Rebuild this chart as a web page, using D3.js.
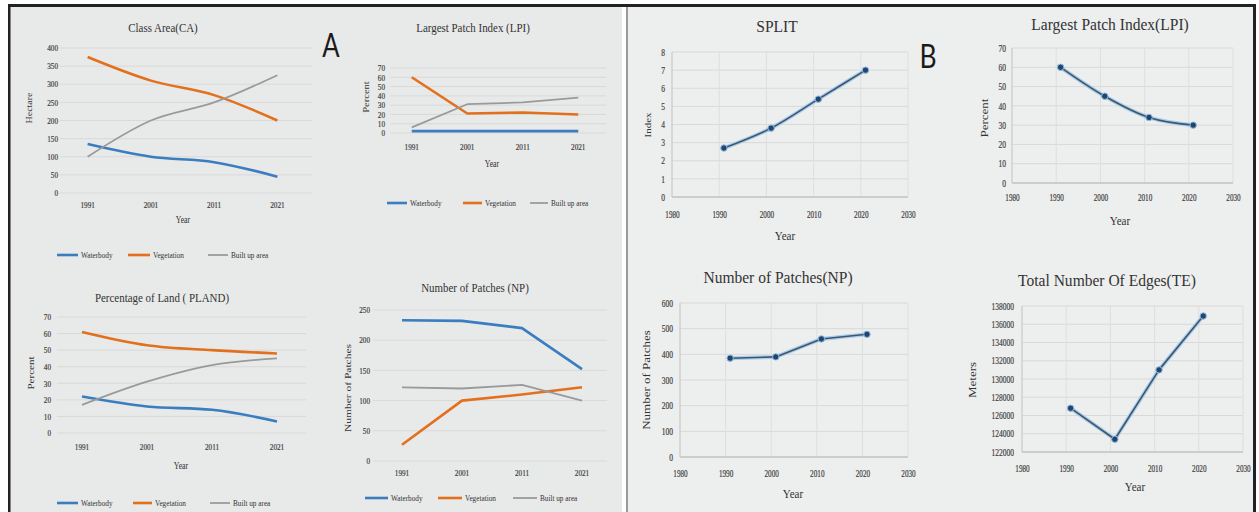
<!DOCTYPE html>
<html>
<head>
<meta charset="utf-8">
<script src="https://cdn.jsdelivr.net/npm/d3@7"></script>
<style>
  body { margin: 0; background: #fff; }
  svg { display: block; }
  text { font-family: "Liberation Serif", "Times New Roman", serif; fill: #333; }
  .tick text { stroke: #555; stroke-width: 0.2; }
  .big { font-family: Lato, "Open Sans", sans-serif; fill: #1a1a1a; }
</style>
</head>
<body>
<svg id="chart" width="1259" height="512"></svg>
<script>
// panel A: land cover classes
const years = ['1991', '2001', '2011', '2021'];
const seriesNames = ['Waterbody', 'Vegetation', 'Built up area'];

const caWater = [135, 100, 85, 45];
const caVeg = [375, 310, 270, 200];
const caBuilt = [100, 200, 250, 325];

const lpiWater = [2, 2, 2, 2];
const lpiVeg = [60, 21, 22, 20];
const lpiBuilt = [6, 31, 33, 38];

const plandWater = [22, 16, 14, 7];
const plandVeg = [61, 53, 50, 48];
const plandBuilt = [17, 31, 41, 45];

const npWater = [233, 232, 220, 152];
const npVeg = [27, 100, 110, 122];
const npBuilt = [122, 120, 126, 100];

const caTicks = [0, 50, 100, 150, 200, 250, 300, 350, 400];
const pctTicks = [0, 10, 20, 30, 40, 50, 60, 70];
const npTicks = [0, 50, 100, 150, 200, 250];

// panel B: landscape totals
const bYears = [1991, 2001, 2011, 2021];
const splitVals = [2.7, 3.8, 5.4, 7.0];
const lpiTotal = [60, 45, 34, 30];
const npTotal = [385, 390, 460, 478];
const teTotal = [126800, 123400, 131000, 136900];

const yearTicks = [1980, 1990, 2000, 2010, 2020, 2030];
const splitTicks = [0, 1, 2, 3, 4, 5, 6, 7, 8];
const npTotalTicks = [0, 100, 200, 300, 400, 500, 600];
const teTicks = [122000, 124000, 126000, 128000, 130000, 132000, 134000, 136000, 138000];

const colors = ['#3a7dc0', '#e2701c', '#9a9a9a'];
const widths = [2.6, 2.6, 1.8];

const svg = d3.select('#chart');

// frame
svg.append('rect').attr('x', 10).attr('y', 7).attr('width', 612).attr('height', 505).attr('fill', '#e8e9e9');
svg.append('rect').attr('x', 628).attr('y', 7).attr('width', 625).attr('height', 505).attr('fill', '#edeeee');
svg.append('rect').attr('x', 8).attr('y', 4).attr('width', 1248).attr('height', 3).attr('fill', '#222');
svg.append('rect').attr('x', 8).attr('y', 4).attr('width', 2.5).attr('height', 508).attr('fill', '#222');
svg.append('rect').attr('x', 626).attr('y', 7).attr('width', 2).attr('height', 505).attr('fill', '#9a9a9a');
svg.append('rect').attr('x', 1253).attr('y', 4).attr('width', 3).attr('height', 508).attr('fill', '#222');

function squeeze(sel, k) {
  sel.each(function () {
    const w = this.getComputedTextLength();
    if (w > 0) d3.select(this).attr('textLength', w * k).attr('lengthAdjust', 'spacingAndGlyphs');
  });
}

function vlabel(g, text, x, y, size, k) {
  g.append('text')
    .attr('transform', `translate(${x},${y}) rotate(-90) scale(1,${k})`)
    .attr('text-anchor', 'middle').attr('dy', '0.35em')
    .attr('font-size', size).text(text);
}

function drawA(c) {
  const g = svg.append('g');
  const x = d3.scaleBand().domain(years).range(c.xr);
  const y = d3.scaleLinear().domain(c.yd).range(c.yr);
  const cx = d => x(d) + x.bandwidth() / 2;

  g.selectAll('line.grid').data(c.ticks).join('line')
    .attr('class', 'grid')
    .attr('x1', c.gx[0]).attr('x2', c.gx[1])
    .attr('y1', d => y(d)).attr('y2', d => y(d))
    .attr('stroke', '#d9d9d9');

  const ya = g.append('g').attr('transform', `translate(${c.yAxisX},0)`)
    .call(d3.axisLeft(y).tickValues(c.ticks).tickSize(0).tickPadding(0));
  ya.select('.domain').remove();
  ya.selectAll('text').attr('font-size', 8.5);
  squeeze(ya.selectAll('text'), 0.85);

  const xa = g.append('g').attr('transform', `translate(0,${c.catY})`)
    .call(d3.axisBottom(x).tickSize(0).tickPadding(0));
  xa.select('.domain').remove();
  xa.selectAll('text').attr('y', 0).attr('dy', '0.32em').attr('font-size', 8.5);
  squeeze(xa.selectAll('text'), 0.85);

  const line = d3.line().x((d, i) => cx(years[i])).y(d => y(d)).curve(c.curve);
  c.values.forEach((vals, s) => {
    g.append('path').datum(vals)
      .attr('d', line).attr('fill', 'none')
      .attr('stroke', colors[s]).attr('stroke-width', widths[s])
      .attr('stroke-linejoin', 'round');
  });

  const t = g.append('text').attr('x', c.titleX).attr('y', c.titleY).attr('dy', '0.35em')
    .attr('text-anchor', 'middle').attr('font-size', 11.5).text(c.title);
  squeeze(t, 0.95);

  if (c.yearPos) {
    const yr = g.append('text').attr('x', c.yearPos[0]).attr('y', c.yearPos[1]).attr('dy', '0.35em')
      .attr('text-anchor', 'middle').attr('font-size', 10).text('Year');
    squeeze(yr, 0.78);
  }
  vlabel(g, c.ylab, c.ylabPos[0], c.ylabPos[1], c.ylabSize, 0.75);

  seriesNames.forEach((name, s) => {
    const p = c.legend[s];
    g.append('line').attr('x1', p[0]).attr('x2', p[1]).attr('y1', c.legendY).attr('y2', c.legendY)
      .attr('stroke', colors[s]).attr('stroke-width', widths[s]);
    const lt = g.append('text').attr('x', p[2]).attr('y', c.legendY).attr('dy', '0.33em')
      .attr('font-size', 8.5).text(name);
    squeeze(lt, 0.85);
  });
}

function drawB(c) {
  const g = svg.append('g');
  const x = d3.scaleLinear().domain([1980, 2030]).range(c.xr);
  const y = d3.scaleLinear().domain(c.yd).range(c.yr);

  g.selectAll('line.hg').data(c.ticks).join('line')
    .attr('x1', c.xr[0]).attr('x2', c.xr[1])
    .attr('y1', d => y(d)).attr('y2', d => y(d))
    .attr('stroke', '#d8d9d9');
  g.selectAll('line.vg').data(yearTicks).join('line')
    .attr('x1', d => x(d)).attr('x2', d => x(d))
    .attr('y1', c.yr[0]).attr('y2', c.yr[1])
    .attr('stroke', '#dedede');
  g.append('line').attr('x1', c.xr[0]).attr('x2', c.xr[1])
    .attr('y1', c.yr[0]).attr('y2', c.yr[0]).attr('stroke', '#b5b5b5');
  g.append('line').attr('x1', c.xr[0]).attr('x2', c.xr[0])
    .attr('y1', c.yr[0]).attr('y2', c.yr[1]).attr('stroke', '#c8c8c8');

  const ya = g.append('g').attr('transform', `translate(${c.yAxisX},0)`)
    .call(d3.axisLeft(y).tickValues(c.ticks).tickSize(0).tickPadding(0).tickFormat(d3.format('d')));
  ya.select('.domain').remove();
  ya.selectAll('text').attr('font-size', 10);
  squeeze(ya.selectAll('text'), 0.75);

  const xa = g.append('g').attr('transform', `translate(0,${c.xLabY})`)
    .call(d3.axisBottom(x).tickValues(yearTicks).tickSize(0).tickPadding(0).tickFormat(d3.format('d')));
  xa.select('.domain').remove();
  xa.selectAll('text').attr('y', 0).attr('dy', '0.32em').attr('font-size', 10);
  squeeze(xa.selectAll('text'), 0.72);

  const line = d3.line().x((d, i) => x(bYears[i])).y(d => y(d)).curve(c.curve);
  g.append('path').datum(c.values).attr('d', line).attr('fill', 'none')
    .attr('stroke', '#a9cdec').attr('stroke-width', 4).attr('stroke-linejoin', 'round');
  g.append('path').datum(c.values).attr('d', line).attr('fill', 'none')
    .attr('stroke', '#3f566d').attr('stroke-width', 1.6).attr('stroke-linejoin', 'round');
  g.selectAll('circle').data(c.values).join('circle')
    .attr('cx', (d, i) => x(bYears[i])).attr('cy', d => y(d)).attr('r', 3.2)
    .attr('fill', '#21466d').attr('stroke', '#8fbde6').attr('stroke-width', 1);

  const t = g.append('text').attr('x', c.titleX).attr('y', c.titleY).attr('dy', '0.35em')
    .attr('text-anchor', 'middle').attr('font-size', 16).text(c.title);
  squeeze(t, 0.97);

  const yr = g.append('text').attr('x', c.yearPos[0]).attr('y', c.yearPos[1]).attr('dy', '0.35em')
    .attr('text-anchor', 'middle').attr('font-size', 13).text('Year');
  squeeze(yr, 0.85);
  vlabel(g, c.ylab, c.ylabPos[0], c.ylabPos[1], c.ylabSize, 0.75);
}

drawA({
  title: 'Class Area(CA)', titleX: 163, titleY: 28,
  values: [caWater, caVeg, caBuilt],
  xr: [56, 309], yd: [0, 400], yr: [193, 48], ticks: caTicks,
  gx: [60, 312], yAxisX: 58, catY: 205,
  yearPos: [183, 219], ylab: 'Hectare', ylabPos: [29, 108], ylabSize: 10,
  legendY: 255, legend: [[57, 78, 81], [128, 150, 153], [208, 228, 231]],
  curve: d3.curveMonotoneX
});

drawA({
  title: 'Largest Patch Index (LPI)', titleX: 473, titleY: 28,
  values: [lpiWater, lpiVeg, lpiBuilt],
  xr: [384, 606], yd: [0, 70], yr: [133, 68], ticks: pctTicks,
  gx: [390, 606], yAxisX: 385, catY: 147,
  yearPos: [492, 163], ylab: 'Percent', ylabPos: [366, 97], ylabSize: 10.5,
  legendY: 203, legend: [[387, 407, 410], [463, 482, 485], [530, 548, 551]],
  curve: d3.curveLinear
});

drawA({
  title: 'Percentage of Land ( PLAND)', titleX: 162, titleY: 298,
  values: [plandWater, plandVeg, plandBuilt],
  xr: [49.5, 309.5], yd: [0, 70], yr: [433, 317], ticks: pctTicks,
  gx: [57, 306], yAxisX: 51, catY: 447,
  yearPos: [181, 465], ylab: 'Percent', ylabPos: [31, 373], ylabSize: 11,
  legendY: 503, legend: [[57, 78, 81], [133, 152, 155], [210, 230, 233]],
  curve: d3.curveMonotoneX
});

drawA({
  title: 'Number of Patches (NP)', titleX: 475, titleY: 288,
  values: [npWater, npVeg, npBuilt],
  xr: [372, 612], yd: [0, 250], yr: [461, 310], ticks: npTicks,
  gx: [373, 607], yAxisX: 370, catY: 473,
  yearPos: null, ylab: 'Number of Patches', ylabPos: [348, 388], ylabSize: 11.5,
  legendY: 498, legend: [[365, 388, 391], [438, 462, 465], [513, 537, 540]],
  curve: d3.curveLinear
});

drawB({
  title: 'SPLIT', titleX: 777, titleY: 26, values: splitVals,
  xr: [672, 908], yd: [0, 8], yr: [197, 52], ticks: splitTicks,
  yAxisX: 665, xLabY: 215, yearPos: [785, 235],
  ylab: 'Index', ylabPos: [648, 125], ylabSize: 11, curve: d3.curveMonotoneX
});

drawB({
  title: 'Largest Patch Index(LPI)', titleX: 1110, titleY: 24, values: lpiTotal,
  xr: [1012, 1233], yd: [0, 70], yr: [183, 48], ticks: pctTicks,
  yAxisX: 1006, xLabY: 198, yearPos: [1120, 220],
  ylab: 'Percent', ylabPos: [985, 118], ylabSize: 13, curve: d3.curveMonotoneX
});

drawB({
  title: 'Number of Patches(NP)', titleX: 778, titleY: 277, values: npTotal,
  xr: [680, 908], yd: [0, 600], yr: [457, 303], ticks: npTotalTicks,
  yAxisX: 673, xLabY: 474, yearPos: [793, 493],
  ylab: 'Number of Patches', ylabPos: [647, 380], ylabSize: 13, curve: d3.curveLinear
});

drawB({
  title: 'Total Number Of Edges(TE)', titleX: 1107, titleY: 280, values: teTotal,
  xr: [1022, 1243], yd: [122000, 138000], yr: [452, 306], ticks: teTicks,
  yAxisX: 1014, xLabY: 469, yearPos: [1135, 486],
  ylab: 'Meters', ylabPos: [973, 380], ylabSize: 13, curve: d3.curveLinear
});

// panel letters
const la = svg.append('text').attr('class', 'big').attr('x', 331).attr('y', 57)
  .attr('text-anchor', 'middle').attr('font-size', 32).text('A');
squeeze(la, 0.8);
const lb = svg.append('text').attr('class', 'big').attr('x', 928).attr('y', 68)
  .attr('text-anchor', 'middle').attr('font-size', 33).text('B');
squeeze(lb, 0.8);
</script>
</body>
</html>
